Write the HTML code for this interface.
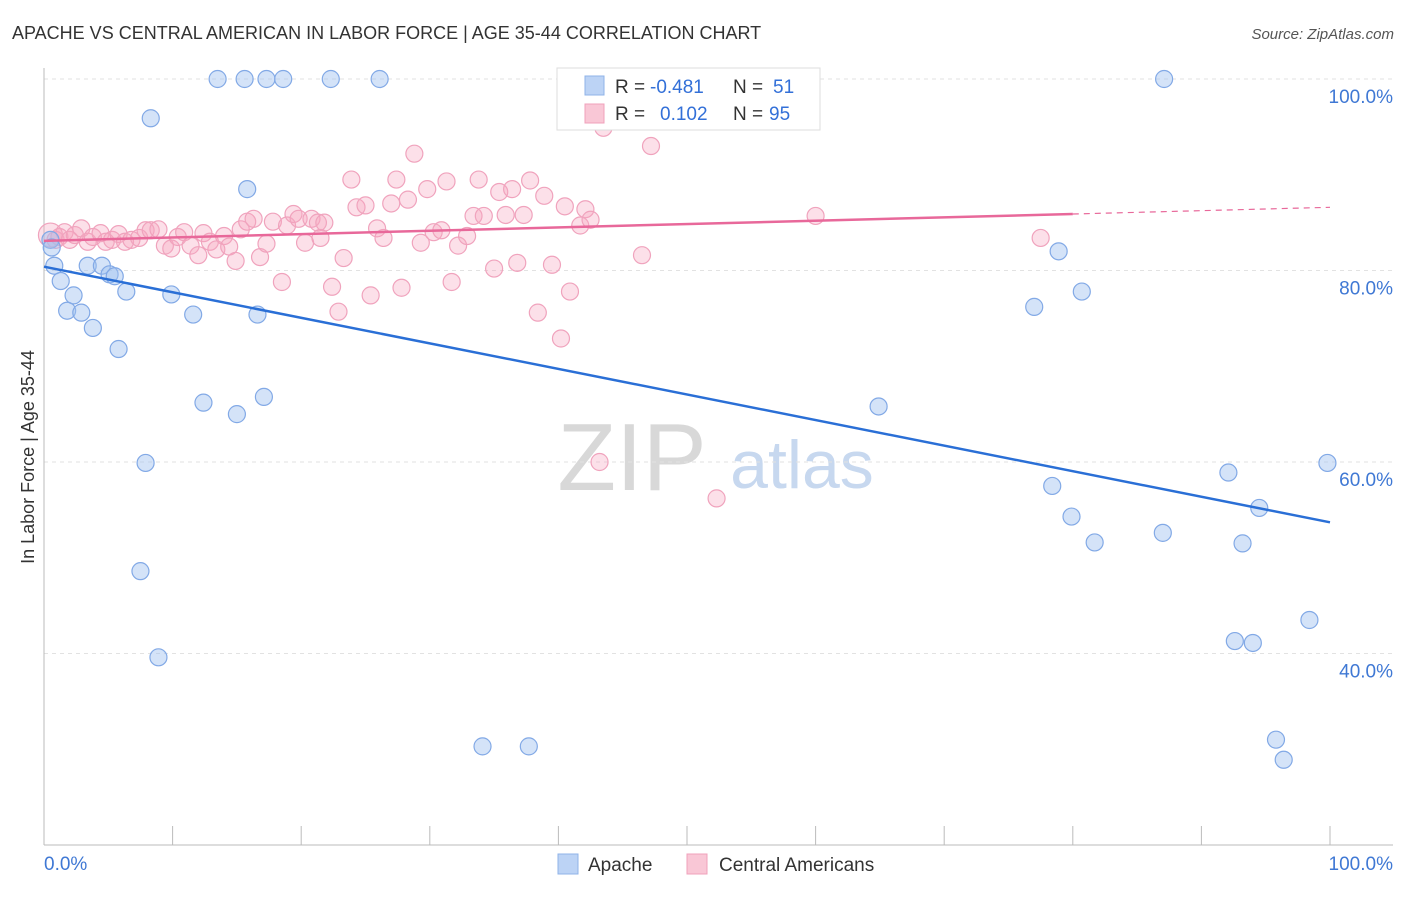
<!DOCTYPE html>
<html><head><meta charset="utf-8">
<style>
body{margin:0;background:#fff;font-family:"Liberation Sans",sans-serif;}
svg text{font-family:"Liberation Sans",sans-serif;}
</style></head>
<body>
<svg id="chart" width="1406" height="892" viewBox="0 0 1406 892" xmlns="http://www.w3.org/2000/svg">
<text x="12" y="39" font-size="18" fill="#333">APACHE VS CENTRAL AMERICAN IN LABOR FORCE | AGE 35-44 CORRELATION CHART</text>
<text x="1394" y="39" font-size="15" fill="#555" text-anchor="end" font-style="italic">Source: ZipAtlas.com</text>
<text transform="translate(34,457) rotate(-90)" font-size="18" fill="#333" text-anchor="middle">In Labor Force | Age 35-44</text>
<g>
<text x="632" y="490" font-size="96" fill="#d8d8d8" font-family="Liberation Serif,serif" text-anchor="middle">ZIP</text>
<text x="802" y="488" font-size="68" fill="#c7d8ef" text-anchor="middle">atlas</text>
</g>
<g id="grid"></g>
<g id="axes"></g>
<g id="marks"></g>
<g>
<rect x="557" y="68" width="263" height="62" fill="#fff" stroke="#ddd"/>
<rect x="585" y="76" width="19" height="19" fill="#bcd3f5" stroke="#8fb3e8"/>
<text x="615" y="93" font-size="19" fill="#333">R =</text>
<text x="650" y="93" font-size="19" fill="#3370d8">-0.481</text>
<text x="733" y="93" font-size="19" fill="#333">N =</text>
<text x="773" y="93" font-size="19" fill="#3370d8">51</text>
<rect x="585" y="104" width="19" height="19" fill="#f9c7d6" stroke="#f0a0bb"/>
<text x="615" y="120" font-size="19" fill="#333">R =</text>
<text x="660" y="120" font-size="19" fill="#3370d8">0.102</text>
<text x="733" y="120" font-size="19" fill="#333">N =</text>
<text x="769" y="120" font-size="19" fill="#3370d8">95</text>
</g>
<g>
<rect x="558" y="854" width="20" height="20" fill="#bcd3f5" stroke="#8fb3e8"/>
<text x="588" y="871" font-size="19" fill="#333">Apache</text>
<rect x="687" y="854" width="20" height="20" fill="#f9c7d6" stroke="#f0a0bb"/>
<text x="719" y="871" font-size="19" fill="#333">Central Americans</text>
</g>
</svg>
<script>
const yTicks=[40,60,80,100];
const xTickLabels=["0.0%","100.0%"];
const apacheX=[13.5,15.6,17.3,18.6,22.3,26.1,87.1,8.3,15.8,0.8,1.3,3.4,4.5,5.1,5.5,6.4,2.3,1.8,2.9,9.9,11.6,16.6,3.8,5.8,12.4,15.0,17.1,7.9,7.5,8.9,34.1,37.7,78.9,80.7,77.0,64.9,99.8,92.1,78.4,94.5,79.9,81.7,87.0,93.2,98.4,92.6,94.0,95.8,96.4,0.5,0.6];
const apacheY=[100,100,100,100,100,100,100,95.9,88.5,80.5,78.9,80.5,80.5,79.6,79.4,77.8,77.4,75.8,75.6,77.5,75.4,75.4,74.0,71.8,66.2,65.0,66.8,59.9,48.6,39.6,30.3,30.3,82.0,77.8,76.2,65.8,59.9,58.9,57.5,55.2,54.3,51.6,52.6,51.5,43.5,41.3,41.1,31.0,28.9,83.2,82.4];
const centralX=[0.5,0.9,1.2,1.6,2.0,2.4,2.9,3.4,3.8,4.4,4.8,5.3,5.8,6.3,6.8,7.4,7.9,8.3,8.9,9.4,9.9,10.4,10.9,11.4,12.0,12.4,12.9,13.4,14.0,14.4,14.9,15.3,15.8,16.3,16.8,17.3,17.8,18.5,18.9,19.4,19.8,20.3,20.8,21.3,21.8,21.5,22.9,23.3,22.4,23.9,24.3,25.0,25.4,25.9,26.4,27.0,27.4,27.8,28.3,28.8,29.3,29.8,30.3,30.9,31.3,31.7,32.2,32.9,33.4,33.8,34.2,35.0,35.4,35.9,36.4,36.8,37.3,37.8,38.4,38.9,39.5,40.2,40.5,40.9,41.7,42.1,42.5,43.2,43.5,46.5,47.2,52.3,55.3,59.3,60.0,77.5];
const centralY=[83.7,83.2,83.5,84.0,83.2,83.7,84.4,83.0,83.5,83.9,83.0,83.2,83.8,83.0,83.2,83.4,84.2,84.2,84.3,82.6,82.3,83.5,84.0,82.6,81.6,83.9,83.0,82.2,83.6,82.5,81.0,84.3,85.1,85.4,81.4,82.8,85.1,78.8,84.7,85.9,85.4,82.9,85.4,85.0,85.0,83.4,75.7,81.3,78.3,89.5,86.6,86.8,77.4,84.4,83.4,87.0,89.5,78.2,87.4,92.2,82.9,88.5,84.0,84.2,89.3,78.8,82.6,83.6,85.7,89.5,85.7,80.2,88.2,85.8,88.5,80.8,85.8,89.4,75.6,87.8,80.6,72.9,86.7,77.8,84.7,86.4,85.3,60.0,94.9,81.6,93.0,56.2,100,100,85.7,83.4];
// trend lines (value at x=0 and x=100)
const apacheTrend=[80.4,53.7];
const centralTrend=[83.1,86.6];
const centralSolidEnd=80;

const NS="http://www.w3.org/2000/svg";
const X0=44,X1=1330,YTOP=79,PX_PER=9.575;
const sx=v=>X0+(X1-X0)*v/100;
const sy=v=>YTOP+(100-v)*PX_PER;
function mk(tag,attrs,parent){const e=document.createElementNS(NS,tag);for(const k in attrs)e.setAttribute(k,attrs[k]);parent.appendChild(e);return e;}
const grid=document.getElementById('grid'),axes=document.getElementById('axes'),marks=document.getElementById('marks');
yTicks.forEach(t=>{
  const l=mk('line',{x1:44,x2:1393,y1:sy(t),y2:sy(t),stroke:'#e2e2e2','stroke-dasharray':'4,4'},grid);
  
  
  const tx=mk('text',{x:1393,y:sy(t)+24,'font-size':19,fill:'#3f78d4','text-anchor':'end'},axes);
  tx.textContent=t.toFixed(1)+'%';
  
  
});
mk('line',{x1:44,x2:44,y1:68,y2:845,stroke:'#bbb'},axes);
mk('line',{x1:44,x2:1393,y1:845,y2:845,stroke:'#bbb'},axes);
for(let i=0;i<=10;i++){
  const t=mk('line',{x1:sx(i*10),x2:sx(i*10),y1:826,y2:845,stroke:'#bbb'},axes);
  
  
}
const xl0=mk('text',{x:44,y:870,'font-size':19,fill:'#3f78d4'},axes);xl0.textContent=xTickLabels[0];


const xl1=mk('text',{x:1393,y:870,'font-size':19,fill:'#3f78d4','text-anchor':'end'},axes);xl1.textContent=xTickLabels[1];



centralX.forEach((x,i)=>{
  const c=mk('circle',{cx:sx(x),cy:sy(centralY[i]),r:i==0?12:8.5,fill:'rgba(245,165,192,0.35)',stroke:'#f0a3bd','stroke-width':1.2},marks);
  
  
});
apacheX.forEach((x,i)=>{
  const c=mk('circle',{cx:sx(x),cy:sy(apacheY[i]),r:8.5,fill:'rgba(160,192,240,0.45)',stroke:'#82a9e6','stroke-width':1.2},marks);
  
  
});
const ct=v=>centralTrend[0]+(centralTrend[1]-centralTrend[0])*v/100;
const l1=mk('line',{x1:sx(0),y1:sy(ct(0)),x2:sx(centralSolidEnd),y2:sy(ct(centralSolidEnd)),stroke:'#e8689a','stroke-width':2.5},marks);


const l2=mk('line',{x1:sx(centralSolidEnd),y1:sy(ct(centralSolidEnd)),x2:sx(100),y2:sy(ct(100)),stroke:'#e8689a','stroke-width':1.2,'stroke-dasharray':'6,5'},marks);


const l3=mk('line',{x1:sx(0),y1:sy(apacheTrend[0]),x2:sx(100),y2:sy(apacheTrend[1]),stroke:'#2a6fd6','stroke-width':2.5},marks);


</script>
</body></html>
